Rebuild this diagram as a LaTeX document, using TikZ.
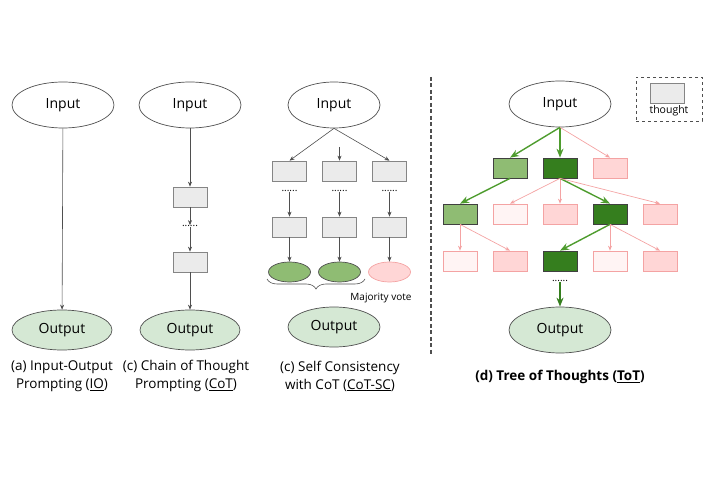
\documentclass[tikz,border=0pt]{standalone}
\usepackage{fontspec}
\setmainfont{Open Sans}
\usetikzlibrary{shapes.geometric,arrows.meta,decorations.pathreplacing}
\definecolor{linegray}{HTML}{4F4F4F}
\definecolor{boxgray}{HTML}{EBEBEB}
\definecolor{boxedge}{HTML}{858585}
\definecolor{outgreen}{HTML}{D5E8D4}
\definecolor{lightgreen}{HTML}{8FBC73}
\definecolor{darkgreen}{HTML}{357E1E}
\definecolor{arrowgreen}{HTML}{4E9C2E}
\definecolor{pinkfill}{HTML}{FFD6D6}
\definecolor{palepink}{HTML}{FFF4F4}
\definecolor{pinkedge}{HTML}{F4A3A3}
\begin{document}
\begin{tikzpicture}[x=1pt,y=-1pt]
	\tikzstyle{every node}+=[inner sep=0pt,font=\fontsize{14}{18}\selectfont]
	\tikzstyle{inbox}=[ellipse,draw=linegray,line width=0.7pt,fill=white,minimum width=102,minimum height=46]
	\tikzstyle{outbox}=[ellipse,draw=linegray,line width=0.7pt,fill=outgreen,minimum width=100,minimum height=40]
	\tikzstyle{thought}=[rectangle,draw=boxedge,line width=0.7pt,fill=boxgray,minimum width=34,minimum height=20]
	\tikzstyle{good}=[thought,draw=darkgray,fill=lightgreen]
	\tikzstyle{best}=[thought,draw=darkgray,fill=darkgreen]
	\tikzstyle{bad}=[thought,draw=pinkedge,fill=pinkfill]
	\tikzstyle{weak}=[thought,draw=pinkedge,fill=palepink]
	\tikzstyle{dotrow}=[font=\fontsize{10}{10}\selectfont]
	\tikzstyle{captext}=[align=center,font=\fontsize{13.5}{18}\selectfont]
	\tikzstyle{arr}=[draw=linegray,line width=0.6pt,-{Stealth[length=5pt,width=4pt]}]
	\tikzstyle{garr}=[draw=arrowgreen,line width=1.4pt,-{Stealth[length=9pt,width=7pt]}]
	\tikzstyle{parr}=[draw=pinkedge,line width=0.7pt,-{Stealth[length=5pt,width=4pt]}]
	\useasboundingbox (0,0) rectangle (723,478);
	% (a) IO
	\node [inbox] (ioin) at (63,105) {Input};
	\node [outbox] (ioout) at (62,330) {Output};
	\draw [arr] (ioin) -- (ioout);
	\node [captext] (iocap) at (62,376) {(a) Input-Output\\Prompting (\underline{IO})};
	% (b) CoT
	\node [inbox] (cotin) at (190,105) {Input};
	\node [thought] (cot1) at (190,197) {};
	\node [dotrow] (cotdots) at (190,226) {......};
	\node [thought] (cot2) at (190,262) {};
	\node [outbox] (cotout) at (190,330) {Output};
	\draw [arr] (cotin) -- (cot1);
	\draw [arr] (cot1) -- (cotdots);
	\draw [arr] (cotdots) -- (cot2);
	\draw [arr] (cot2) -- (cotout);
	\node [captext] (cotcap) at (186,376) {(c) Chain of Thought\\Prompting (\underline{CoT})};
	% (c) CoT-SC
	\node [inbox,minimum width=92] (scin) at (334,105) {Input};
	\foreach \x/\n in {289.5/1,339.5/2,389.5/3} {
		\node [thought] (sca\n) at (\x,171) {};
		\node [dotrow] (scd\n) at (\x,191) {......};
		\node [thought] (scb\n) at (\x,227) {};
		\draw [arr] (scd\n) -- (scb\n);
	}
	\node [ellipse,draw=linegray,line width=0.7pt,fill=lightgreen,minimum width=42,minimum height=20] (scv1) at (289.5,272) {};
	\node [ellipse,draw=linegray,line width=0.7pt,fill=lightgreen,minimum width=42,minimum height=20] (scv2) at (339.5,272) {};
	\node [ellipse,draw=pinkedge,line width=0.7pt,fill=pinkfill,minimum width=42,minimum height=20] (scv3) at (389.5,272) {};
	\foreach \n in {1,2,3} \draw [arr] (scb\n) -- (scv\n);
	\coordinate (scmid) at (339.5,147);
	\draw [arr] (scin.south) -- (sca1.north);
	\draw [arr] (scmid) -- (sca2.north);
	\draw [arr] (scin.south) -- (sca3.north);
	\coordinate (bracel) at (267,279);
	\coordinate (bracer) at (365,279);
	\draw [linegray,line width=0.6pt,decorate,decoration={brace,mirror,amplitude=10pt}] (bracel) -- (bracer);
	\node [font=\fontsize{10}{12}\selectfont] (vote) at (381,298) {Majority vote};
	\node [outbox,minimum width=92] (scout) at (334,327) {Output};
	\node [captext] (sccap) at (340,376) {(c) Self Consistency\\with CoT (\underline{CoT-SC})};
	% divider
	\draw [linegray,line width=1.3pt,dash pattern=on 4pt off 2.5pt] (431,77) -- (431,356);
	% (d) ToT
	\node [draw=linegray,dashed,line width=0.6pt,minimum width=66,minimum height=44] (legend) at (669,99) {};
	\node [thought] (legbox) at (667.5,93) {};
	\node [font=\fontsize{10.5}{12}\selectfont] (legtext) at (669,111) {thought};
	\node [inbox] (totin) at (560,104) {Input};
	\node [good] (t11) at (510,168) {};
	\node [best] (t12) at (560,168) {};
	\node [bad] (t13) at (610,168) {};
	\node [good] (t21) at (460,214) {};
	\node [weak] (t22) at (510,214) {};
	\node [bad] (t23) at (560,214) {};
	\node [best] (t24) at (610,214) {};
	\node [bad] (t25) at (660,214) {};
	\node [weak] (t31) at (460,261) {};
	\node [bad] (t32) at (510,261) {};
	\node [best] (t33) at (560,261) {};
	\node [weak] (t34) at (610,261) {};
	\node [bad] (t35) at (660,261) {};
	\node [dotrow] (totdots) at (560,281) {......};
	\node [outbox,minimum width=102,minimum height=46] (totout) at (560,330) {Output};
	\draw [garr] (totin.south) -- (t11.north);
	\draw [garr] (totin.south) -- (t12.north);
	\draw [parr] (totin.south) -- (t13.north);
	\draw [garr] (t11.south) -- (t21.north);
	\draw [parr] (t12.south) -- (t22.north);
	\draw [parr] (t12.south) -- (t23.north);
	\draw [garr] (t12.south) -- (t24.north);
	\draw [parr] (t12.south) -- (t25.north);
	\draw [parr] (t21.south) -- (t31.north);
	\draw [parr] (t21.south) -- (t32.north);
	\draw [garr] (t24.south) -- (t33.north);
	\draw [parr] (t24.south) -- (t34.north);
	\draw [parr] (t24.south) -- (t35.north);
	\draw [garr,draw=darkgreen] (totdots) -- (totout);
	\node [captext,font=\bfseries\fontsize{13.5}{18}\selectfont] (totcap) at (560,377) {(d) Tree of Thoughts (\underline{ToT})};
\end{tikzpicture}
\end{document}
